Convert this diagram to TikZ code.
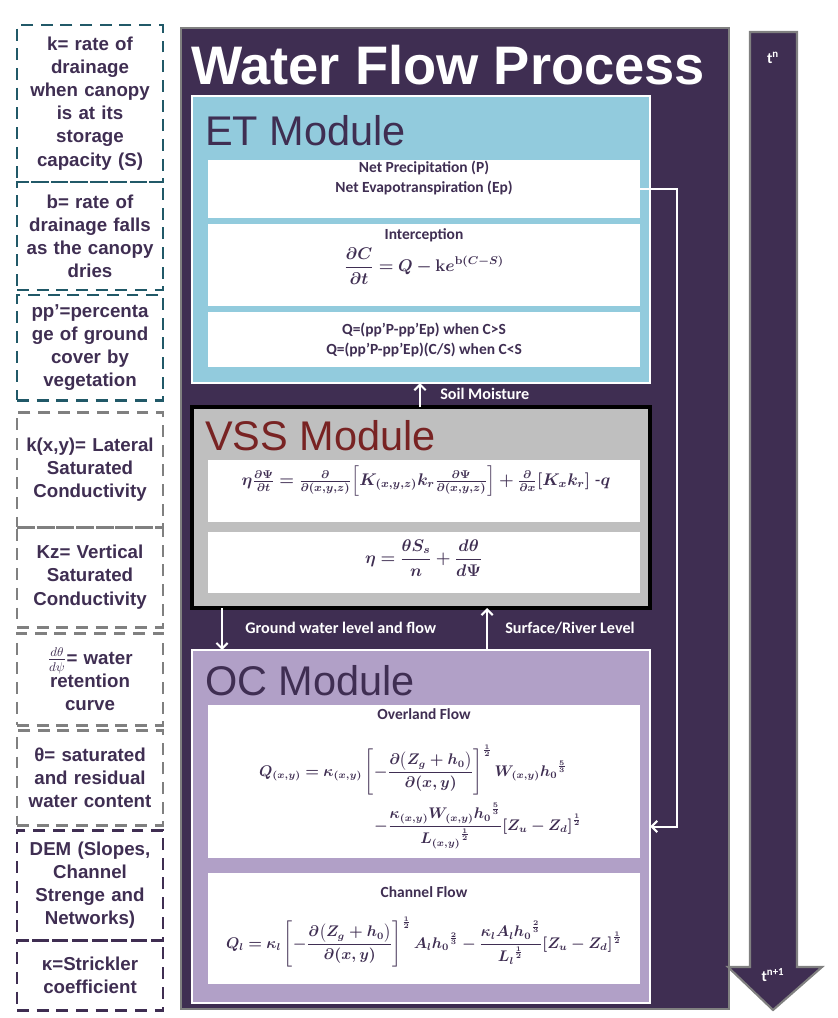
\documentclass[tikz,border=0pt]{standalone}
\usepackage{fontspec}
\setmainfont{Liberation Sans}
\newfontfamily\calibri{Carlito}
\usepackage{amsmath,bm}
\usetikzlibrary{positioning,calc,arrows.meta}

\definecolor{deeppurple}{RGB}{63,46,82}
\definecolor{framegray}{RGB}{128,128,128}
\definecolor{etblue}{RGB}{146,203,221}
\definecolor{vssgray}{RGB}{191,191,191}
\definecolor{vssred}{RGB}{120,35,35}
\definecolor{ocpurple}{RGB}{177,160,199}
\definecolor{dashteal}{RGB}{33,89,104}

\begin{document}
\begin{tikzpicture}[x=0.025cm, y=-0.025cm,
		leftbox/.style={rectangle,draw,dash pattern=on 8.5pt off 5.5pt,line width=2pt,
			minimum width=3.65cm,text width=3.4cm,align=center,inner sep=0pt,outer sep=0pt,
			text=deeppurple,font=\bfseries\fontsize{13.3}{16.4}\selectfont},
		modbox/.style={rectangle,draw=white,line width=1.5pt,minimum width=11.45cm,
			anchor=north west,inner sep=0pt,outer sep=0pt},
		whitebox/.style={rectangle,fill=white,minimum width=10.8cm,
			anchor=north west,inner sep=0pt,outer sep=0pt},
		modtitle/.style={anchor=base west,inner sep=0pt,font=\fontsize{29.5}{32}\selectfont},
		boxtext/.style={text=deeppurple,align=center,inner sep=0pt,
			font=\calibri\bfseries\fontsize{11}{13.5}\selectfont},
		eqn/.style={text=deeppurple,inner sep=0pt,font=\fontsize{12}{14}\selectfont},
		floweqn/.style={text=deeppurple,inner sep=0pt,font=\fontsize{10.5}{12}\selectfont},
		flowlabel/.style={anchor=west,text=white,inner sep=0pt,
			font=\calibri\bfseries\fontsize{11.5}{13}\selectfont},
		flow/.style={draw=white,line width=1.5pt,-{Straight Barb[length=4pt,width=8pt]}}
		]
		\useasboundingbox (0,0) rectangle (837,1018);

		% parameter boxes
		\node[leftbox,draw=dashteal,minimum height=3.925cm,anchor=north west](kdef) at (17,25)
			{k= rate of\\drainage\\when canopy\\is at its\\storage\\capacity (S)};
		\node[leftbox,draw=dashteal,minimum height=2.7cm,below=0cm of kdef](bdef)
			{b= rate of\\drainage falls\\as the canopy\\dries};
		\node[leftbox,draw=dashteal,minimum height=2.625cm,below=0.125cm of bdef](ppdef)
			{pp’=percenta\\ge of ground\\cover by\\vegetation};
		\node[leftbox,draw=framegray,minimum height=2.875cm,below=0.3cm of ppdef](kxydef)
			{k(x,y)= Lateral\\Saturated\\Conductivity};
		\node[leftbox,draw=framegray,minimum height=2.5cm,below=0cm of kxydef](kzdef)
			{Kz= Vertical\\Saturated\\Conductivity};
		\node[leftbox,draw=framegray,minimum height=2.3cm,below=0.15cm of kzdef](retdef)
			{$\frac{d\theta}{d\psi}$= water\\retention\\curve};
		\node[leftbox,draw=framegray,minimum height=2.375cm,below=0.125cm of retdef](thetadef)
			{θ= saturated\\and residual\\water content};
		\node[leftbox,draw=deeppurple,minimum height=2.75cm,below=0.125cm of thetadef](demdef)
			{DEM (Slopes,\\Channel\\Strenge and\\Networks)};
		\node[leftbox,draw=deeppurple,minimum height=1.75cm,below=0cm of demdef](kappadef)
			{κ=Strickler\\coefficient};

		% main frame
		\node[rectangle,draw=framegray,line width=1.5pt,fill=deeppurple,anchor=north west,
			minimum width=13.7cm,minimum height=24.525cm,inner sep=0pt](frame) at (180,27){};
		\node[anchor=base west,inner sep=0pt,text=white,
			font=\bfseries\fontsize{38.6}{40}\selectfont](title) at (191,85){Water Flow Process};

		% time arrow
		\filldraw[draw=framegray,line width=1.5pt,fill=deeppurple]
			(750,32) -- (797,32) -- (797,967) -- (822,967) -- (773,1010) -- (728,967) -- (750,967) -- cycle;
		\node[text=white,font=\calibri\bfseries\fontsize{11}{12}\selectfont](tn) at (773,58){t\textsuperscript{n}};
		\node[text=white,font=\calibri\bfseries\fontsize{11}{12}\selectfont](tn1) at (773,975){t\textsuperscript{n+1}};

		% ET module
		\node[modbox,fill=etblue,minimum height=7.175cm](et) at (192,96){};
		\node[modtitle,text=deeppurple](ettitle) at (205,146){ET Module};
		\node[whitebox,minimum height=1.45cm](etnet) at (208,160){};
		\node[whitebox,minimum height=2.05cm,anchor=north,below=0.15cm of etnet](etint){};
		\node[whitebox,minimum height=1.375cm,anchor=north,below=0.15cm of etint](etq){};
		\node[boxtext,font=\calibri\bfseries\fontsize{11}{13.8}\selectfont](netlbl) at (424,178)
			{Net Precipitation (P)\\Net Evapotranspiration (Ep)};
		\node[boxtext](intlbl) at (424,235){Interception};
		\node[eqn](inteq) at (424,266)
			{$\displaystyle\bm{\frac{\partial C}{\partial t}=Q-\mathbf{k}e^{\mathbf{b}(C-S)}}$};
		\node[boxtext,font=\calibri\bfseries\fontsize{11}{14.2}\selectfont](qlbl) at (424,340)
			{Q=(pp’P-pp’Ep) when C>S\\Q=(pp’P-pp’Ep)(C/S) when C<S};

		% VSS module
		\node[modbox,draw=black,line width=2.5pt,fill=vssgray,minimum height=5.025cm](vss) at (192,407){};
		\node[modtitle,text=vssred](vsstitle) at (205,450){VSS Module};
		\node[whitebox,minimum height=1.55cm](vssrich) at (208,460){};
		\node[whitebox,minimum height=1.525cm,anchor=north,below=0.25cm of vssrich](vsseta){};
		\node[eqn](richeq) at (426,481)
			{$\bm{\eta\tfrac{\partial\Psi}{\partial t}=\tfrac{\partial}{\partial(x,y,z)}\Big[K_{(x,y,z)}k_r\tfrac{\partial\Psi}{\partial(x,y,z)}\Big]+\tfrac{\partial}{\partial x}[K_xk_r]}$ -$\bm{q}$};
		\node[eqn](etaeq) at (424,558)
			{$\displaystyle\bm{\eta=\frac{\theta S_s}{n}+\frac{d\theta}{d\Psi}}$};

		% OC module
		\node[modbox,fill=ocpurple,minimum height=8.825cm](oc) at (192,650){};
		\node[modtitle,text=deeppurple](octitle) at (205,695){OC Module};
		\node[whitebox,minimum height=3.825cm](overland) at (208,705){};
		\node[whitebox,minimum height=2.775cm,anchor=north,below=0.375cm of overland](channel){};
		\node[boxtext](ovlbl) at (424,714){Overland Flow};
		\node[floweqn](oveqa) at (413,770)
			{$\displaystyle\bm{Q_{(x,y)}=\kappa_{(x,y)}\left[-\frac{\partial\big(Z_g+h_0\big)}{\partial(x,y)}\right]^{\frac{1}{2}}W_{(x,y)}{h_0}^{\frac{5}{3}}}$};
		\node[floweqn](oveqb) at (478,826)
			{$\displaystyle\bm{-\frac{\kappa_{(x,y)}W_{(x,y)}{h_0}^{\frac{5}{3}}}{{L_{(x,y)}}^{\frac{1}{2}}}[Z_u-Z_d]^{\frac{1}{2}}}$};
		\node[boxtext](chlbl) at (424,892){Channel Flow};
		\node[floweqn](cheq) at (424,942)
			{$\displaystyle\bm{Q_l=\kappa_l\left[-\frac{\partial\big(Z_g+h_0\big)}{\partial(x,y)}\right]^{\frac{1}{2}}A_l{h_0}^{\frac{2}{3}}-\frac{\kappa_lA_l{h_0}^{\frac{2}{3}}}{{L_l}^{\frac{1}{2}}}[Z_u-Z_d]^{\frac{1}{2}}}$};

		% exchanges between modules
		\draw[flow] ([xshift=5.7cm]vss.north west) -- ([xshift=5.7cm]et.south west);
		\node[flowlabel](soil) at (440,394){Soil Moisture};
		\draw[flow] ([xshift=0.75cm]vss.south west) -- ([xshift=0.75cm]oc.north west);
		\node[flowlabel](ground) at (245,628){Ground water level and flow};
		\draw[flow] ([xshift=7.375cm]oc.north west) -- ([xshift=7.375cm]vss.south west);
		\node[flowlabel](surface) at (505,628){Surface/River Level};
		\draw[flow] (etnet.east) -- ++(0.925cm,0) |- (oc.east);

	\end{tikzpicture}
\end{document}
